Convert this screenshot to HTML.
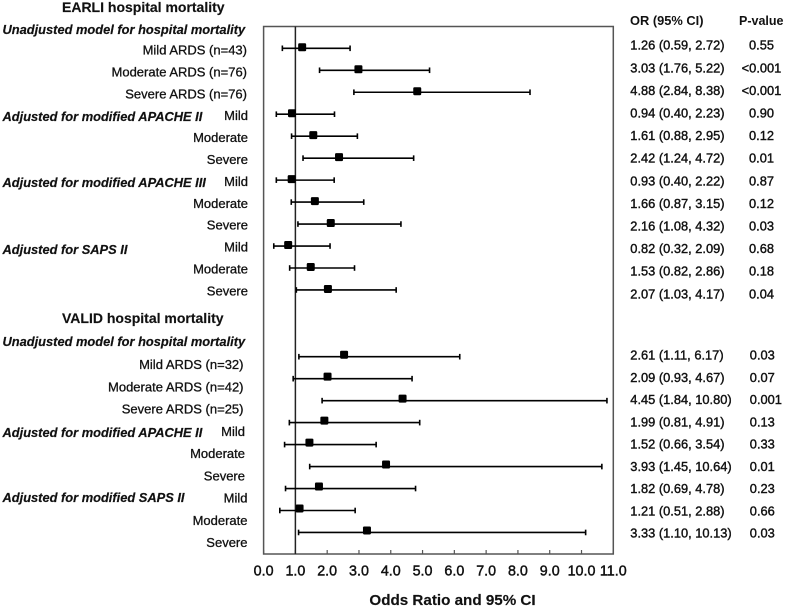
<!DOCTYPE html>
<html><head><meta charset="utf-8"><title>Forest plot</title>
<style>
html,body{margin:0;padding:0;background:#fff}
svg{display:block;filter:blur(.3px)}
text{font-family:"Liberation Sans",Arial,sans-serif;fill:#111}
.lab{font-size:13px;stroke:#111;stroke-width:.3px;text-anchor:end}
.ital{font-size:12.85px;font-weight:bold;font-style:italic;stroke:#111;stroke-width:.2px}
.head{font-size:14px;font-weight:bold;stroke:#111;stroke-width:.15px}
.val{font-size:12.85px;stroke:#111;stroke-width:.4px}
.tick{font-size:14.3px;stroke:#111;stroke-width:.45px;text-anchor:middle}
</style></head>
<body>
<svg id="chart" width="786" height="607" viewBox="0 0 786 607" xmlns="http://www.w3.org/2000/svg">
<text class="head" x="62" y="12">EARLI hospital mortality</text>
<text class="head" x="62" y="323">VALID hospital mortality</text>
<text class="ital" x="2.5" y="34">Unadjusted model for hospital mortality</text>
<text class="ital" x="2.5" y="121">Adjusted for modified APACHE II</text>
<text class="ital" x="2.5" y="187">Adjusted for modified APACHE III</text>
<text class="ital" x="2.5" y="254">Adjusted for SAPS II</text>
<text class="ital" x="2.5" y="346">Unadjusted model for hospital mortality</text>
<text class="ital" x="2.5" y="437">Adjusted for modified APACHE II</text>
<text class="ital" x="2.5" y="502">Adjusted for modified SAPS II</text>
<text class="val" x="630" y="25" style="font-weight:bold;stroke-width:0">OR (95% CI)</text>
<text class="val" x="739" y="25" style="font-size:12.5px;font-weight:bold;stroke-width:0">P-value</text>
<text x="452.5" y="605" style="font-size:15.2px;font-weight:bold;stroke:#111;stroke-width:.15px" text-anchor="middle">Odds Ratio and 95% CI</text>
</svg>
<script>
const categories = ["Mild ARDS (n=43)","Moderate ARDS (n=76)","Severe ARDS (n=76)","Mild","Moderate","Severe","Mild","Moderate","Severe","Mild","Moderate","Severe","Mild ARDS (n=32)","Moderate ARDS (n=42)","Severe ARDS (n=25)","Mild","Moderate","Severe","Mild","Moderate","Severe"];
const oddsRatios = [1.26,3.03,4.88,0.94,1.61,2.42,0.93,1.66,2.16,0.82,1.53,2.07,2.61,2.09,4.45,1.99,1.52,3.93,1.82,1.21,3.33];
const ciLower = [0.59,1.76,2.84,0.40,0.88,1.24,0.40,0.87,1.08,0.32,0.82,1.03,1.11,0.93,1.84,0.81,0.66,1.45,0.69,0.51,1.10];
const ciUpper = [2.72,5.22,8.38,2.23,2.95,4.72,2.22,3.15,4.32,2.09,2.86,4.17,6.17,4.67,10.80,4.91,3.54,10.64,4.78,2.88,10.13];
const pValues = ["0.55","<0.001","<0.001","0.90","0.12","0.01","0.87","0.12","0.03","0.68","0.18","0.04","0.03","0.07","0.001","0.13","0.33","0.01","0.23","0.66","0.03"];
const tickLabels = ["0.0","1.0","2.0","3.0","4.0","5.0","6.0","7.0","8.0","9.0","10.0","11.0"];
const referenceValue = 1;
const xMax = 11;

const svg = document.getElementById('chart');
const NS = 'http://www.w3.org/2000/svg';
const L = 263.6, R = 613.3, T = 26.5, B = 554;
const EARLI_ROWS = 12;
function xPos(v){ return L + (R - L) * v / xMax; }
function lineY(i){ return i < EARLI_ROWS ? 48.3 + 21.97 * i : 356.7 + 21.97 * (i - EARLI_ROWS); }
function markerY(i){ return lineY(i) - (i < EARLI_ROWS ? 1 : 2); }
function markerX(i){ return xPos(oddsRatios[i]) - (i < EARLI_ROWS ? 1.5 : 2.5); }
function labelY(i){ return i < EARLI_ROWS ? 54.5 + 21.9 * i : 369 + 22.25 * (i - EARLI_ROWS); }
function valueY(i){ return i < EARLI_ROWS ? 49.7 + 22.6 * i : 359.6 + 22.25 * (i - EARLI_ROWS); }
function labelRight(i){
  if (i < 3) return 247;
  if (i < EARLI_ROWS) return 248;
  if (i < 15) return 243.5;
  if (i < 18) return 245;
  return 247.5;
}
function mk(tag, attrs, text){
  const e = document.createElementNS(NS, tag);
  for (const k in attrs) e.setAttribute(k, attrs[k]);
  if (text !== undefined) e.textContent = text;
  svg.appendChild(e);
  return e;
}

const frame = mk('rect', {x:L, y:T, width:R-L, height:B-T, fill:'none', stroke:'#555', 'stroke-width':1.5});



tickLabels.forEach(function(t){
  const v = parseFloat(t);
  const tk = mk('line', {x1:xPos(v), x2:xPos(v), y1:B-4, y2:B, stroke:'#555', 'stroke-width':1.2});
  
  
  const lb = mk('text', {class:'tick', x:xPos(v), y:575.5}, t);
  
  
});

const ref = mk('line', {x1:xPos(referenceValue), x2:xPos(referenceValue), y1:T, y2:B, stroke:'#222', 'stroke-width':1.5});



categories.forEach(function(c, i){
  const y = lineY(i);
  const lab = mk('text', {class:'lab', x:labelRight(i), y:labelY(i)}, c);
  
  

  const ci = mk('line', {x1:xPos(ciLower[i]), x2:xPos(ciUpper[i]), y1:y, y2:y, stroke:'#000', 'stroke-width':1.6});
  
  

  const capL = mk('line', {x1:xPos(ciLower[i]), x2:xPos(ciLower[i]), y1:y-2.8, y2:y+2.8, stroke:'#000', 'stroke-width':1.6});
  
  

  const capU = mk('line', {x1:xPos(ciUpper[i]), x2:xPos(ciUpper[i]), y1:y-2.8, y2:y+2.8, stroke:'#000', 'stroke-width':1.6});
  
  

  const pt = mk('rect', {x:markerX(i)-4, y:markerY(i)-4, width:8, height:8, rx:1.2, fill:'#000'});
  
  

  const orText = oddsRatios[i].toFixed(2) + ' (' + ciLower[i].toFixed(2) + ', ' + ciUpper[i].toFixed(2) + ')';
  const ov = mk('text', {class:'val', x:630.3, y:valueY(i)}, orText);
  
  

  const pAttrs = i < EARLI_ROWS
    ? {class:'val', x:761.5, y:valueY(i), 'text-anchor':'middle'}
    : {class:'val', x:749.8, y:valueY(i), 'text-anchor':'start'};
  const pv = mk('text', pAttrs, pValues[i]);
  
  
});
</script>
</body></html>
